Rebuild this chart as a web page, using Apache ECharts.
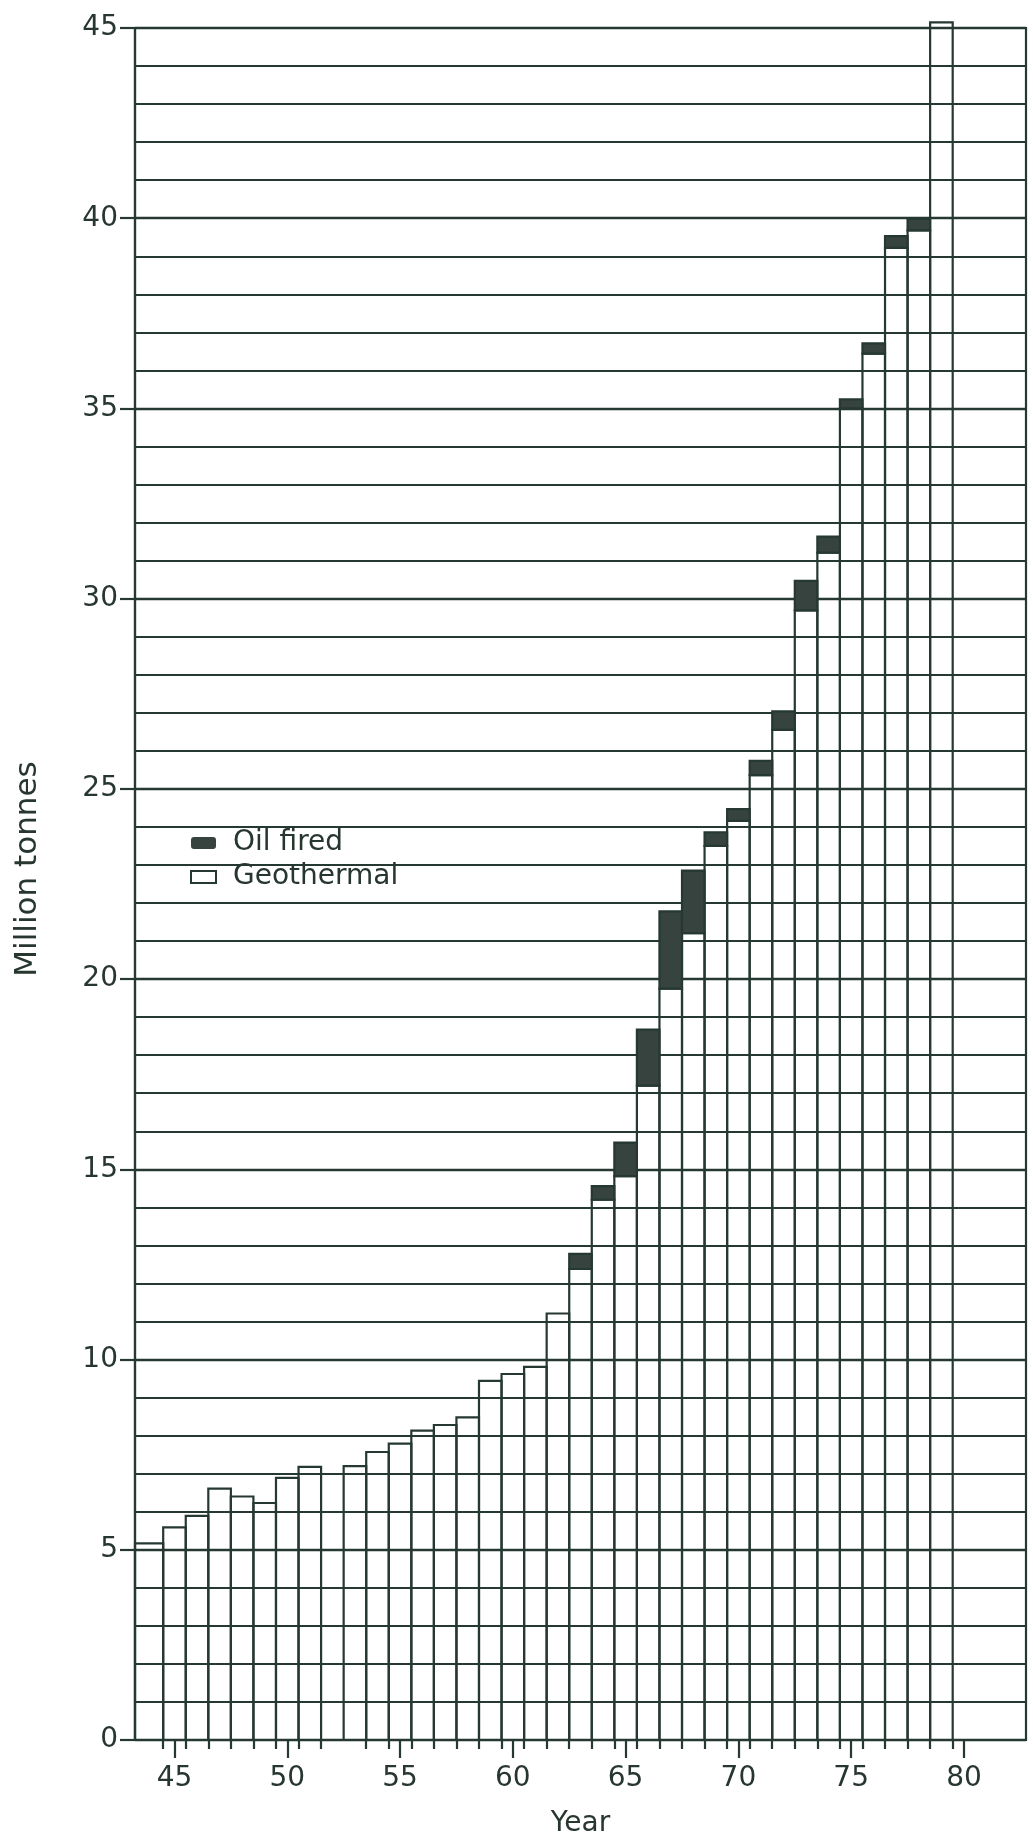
<!DOCTYPE html>
<html>
<head>
<meta charset="utf-8">
<title>Million tonnes - Oil fired / Geothermal</title>
<script src="https://cdn.jsdelivr.net/npm/echarts@6/dist/echarts.min.js"></script>
<style>
  html, body { margin: 0; padding: 0; background: #fff; }
  #chart { width: 1033px; height: 1836px; }
</style>
</head>
<body>
<div id="chart"></div>
<script>
// years (19xx), one bar per year; 1952 has no bar
var years = [44, 45, 46, 47, 48, 49, 50, 51, 52, 53, 54, 55, 56, 57, 58, 59, 60, 61,
             62, 63, 64, 65, 66, 67, 68, 69, 70, 71, 72, 73, 74, 75, 76, 77, 78, 79];
// million tonnes
var geothermal = [5.17, 5.59, 5.89, 6.61, 6.40, 6.23, 6.89, 7.18, null, 7.20, 7.57, 7.79, 8.13, 8.28, 8.48, 9.44, 9.62, 9.81,
                  11.21, 12.38, 14.20, 14.82, 17.20, 19.75, 21.21, 23.50, 24.16, 25.36, 26.55, 29.69, 31.21, 35.00, 36.44, 39.22, 39.68, 45.15];
var oilFired = [0, 0, 0, 0, 0, 0, 0, 0, 0, 0, 0, 0, 0, 0, 0, 0, 0, 0,
                0, 0.40, 0.36, 0.88, 1.47, 2.03, 1.64, 0.36, 0.31, 0.38, 0.49, 0.78, 0.42, 0.24, 0.27, 0.31, 0.30, 0];
var yearLabels = [45, 50, 55, 60, 65, 70, 75, 80];
var xMin = 43.25, xMax = 82.75;
var yMax = 45;

var INK = '#263832';
var OIL = '#36433f';
var TEXT = '#27362f';
var FONT = '"DejaVu Sans", "Noto Sans", sans-serif';

// rows for the custom series, skipping the missing year
var rows = [];
years.forEach(function(y, i) {
    if (geothermal[i] != null) rows.push([y, geothermal[i], oilFired[i]]);
});
// small ticks sit on the bar edges
var edgeTicks = [];
rows.forEach(function(r) {
    if (r[0] + 0.5 < xMax) edgeTicks.push(r[0] + 0.5);
});

// first bar runs from the axis itself
function barLeft(year) {
    return year === years[0] ? xMin : year - 0.5;
}

function renderGeo(params, api) {
    var year = api.value(0);
    var p0 = api.coord([barLeft(year), 0]);
    var p1 = api.coord([year + 0.5, api.value(1)]);
    return {
        type: 'rect',
        shape: { x: p0[0], y: p1[1], width: p1[0] - p0[0], height: p0[1] - p1[1] },
        style: { fill: 'none', stroke: INK, lineWidth: 2.2 }
    };
}

function renderOil(params, api) {
    var year = api.value(0), geo = api.value(1), oil = api.value(2);
    if (!oil) return null;
    var p0 = api.coord([barLeft(year), geo]);
    var p1 = api.coord([year + 0.5, geo + oil]);
    return {
        type: 'rect',
        shape: { x: p0[0], y: p1[1], width: p1[0] - p0[0], height: p0[1] - p1[1] },
        style: { fill: OIL, stroke: INK, lineWidth: 2.2 }
    };
}

var chart = echarts.init(document.getElementById('chart'), null, { renderer: 'canvas' });

var option = {
    backgroundColor: '#fff',
    animation: false,
    textStyle: { fontFamily: FONT, color: TEXT },
    grid: {
        left: 135, right: 7, top: 28, bottom: 96,
        outerBoundsMode: 'none',
        containLabel: false,
        show: true, borderColor: INK, borderWidth: 2.2, backgroundColor: 'transparent'
    },
    legend: {
        orient: 'vertical',
        left: 190,
        top: 829,
        padding: 0,
        itemWidth: 25,
        itemHeight: 12,
        itemGap: 6,
        selectedMode: false,
        textStyle: { fontSize: 28, color: TEXT, fontFamily: FONT, padding: [0, 0, 0, 12] },
        data: [
            { name: 'Oil fired', icon: 'roundRect', itemStyle: { color: OIL, borderWidth: 0 } },
            { name: 'Geothermal', icon: 'rect', itemStyle: { color: '#fff', borderColor: INK, borderWidth: 2 } }
        ]
    },
    xAxis: [{
        type: 'value',
        min: xMin,
        max: xMax,
        position: 'bottom',
        name: 'Year',
        nameLocation: 'middle',
        nameGap: 70,
        nameTextStyle: { fontSize: 28, color: TEXT, fontFamily: FONT },
        axisLine: { show: true, onZero: false, lineStyle: { color: INK, width: 2.2 } },
        axisTick: { show: true, customValues: yearLabels, length: 18, lineStyle: { color: INK, width: 2.2 } },
        axisLabel: { customValues: yearLabels, fontSize: 28, color: TEXT, margin: 25, fontFamily: FONT },
        splitLine: { show: false }
    }, {
        type: 'value',
        min: xMin,
        max: xMax,
        position: 'bottom',
        axisLine: { show: false },
        axisTick: { show: true, customValues: edgeTicks, length: 9, lineStyle: { color: INK, width: 2.2 } },
        axisLabel: { show: false },
        splitLine: { show: false }
    }],
    yAxis: {
        type: 'value',
        min: 0,
        max: yMax,
        interval: 5,
        name: 'Million tonnes',
        nameLocation: 'middle',
        nameRotate: 90,
        nameGap: 92,
        nameTextStyle: { fontSize: 31, color: TEXT, fontFamily: FONT, padding: [0, 0, 0, 30] },
        axisLine: { show: true, lineStyle: { color: INK, width: 2.2 } },
        axisTick: { show: true, length: 15, lineStyle: { color: INK, width: 2.2 } },
        axisLabel: { fontSize: 28, color: TEXT, margin: 17, fontFamily: FONT },
        splitLine: { show: true, lineStyle: { color: INK, width: 2.4 } },
        minorTick: { show: false, splitNumber: 5 },
        minorSplitLine: { show: true, lineStyle: { color: INK, width: 2 } }
    },
    series: [{
        name: 'Geothermal',
        type: 'custom',
        xAxisIndex: 0,
        renderItem: renderGeo,
        encode: { x: 0, y: 1 },
        data: rows,
        z: 3
    }, {
        name: 'Oil fired',
        type: 'custom',
        xAxisIndex: 0,
        renderItem: renderOil,
        encode: { x: 0, y: [1, 2] },
        data: rows,
        z: 4
    }]
};

chart.setOption(option);
</script>
</body>
</html>
